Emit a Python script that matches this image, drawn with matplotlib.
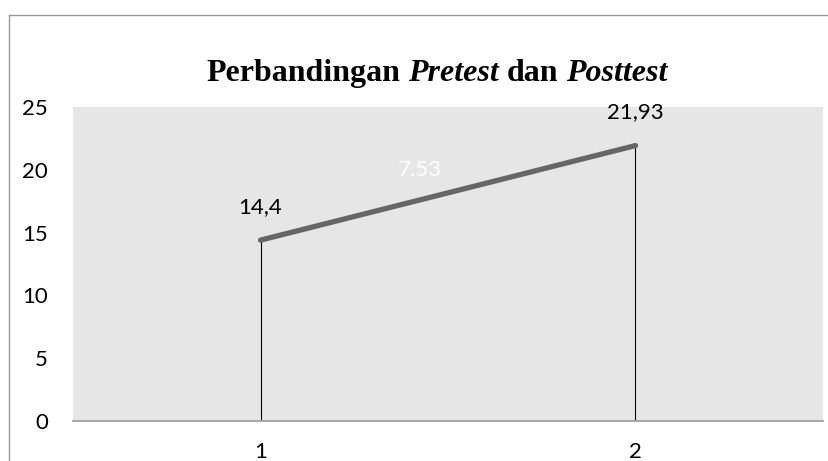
import matplotlib.pyplot as plt
from matplotlib.lines import Line2D

categories = [1, 2]
scores = [14.4, 21.93]
point_labels = ['14,4', '21,93']
gain_label = '7.53'
y_ticks = [0, 5, 10, 15, 20, 25]
title_parts = [('Perbandingan', 'normal'), ('Pretest', 'italic'),
               ('dan', 'normal'), ('Posttest', 'italic')]

W, H = 829, 461
fig = plt.figure(figsize=(W / 100, H / 100), dpi=100)
LAB_FONT = 'Lato'

# plot area in pixels
left, right, top, bottom = 73, 823, 107, 421
ax = fig.add_axes([left / W, 1 - bottom / H, (right - left) / W, (bottom - top) / H])
ax.set_facecolor('#e6e6e6')

ax.plot(categories, scores, color='#666666', lw=3.8, solid_capstyle='round', zorder=3)
ax.vlines(categories, 0, scores, color='black', lw=0.8, zorder=2)

ax.set_xlim(0.5, 2.5)
ax.set_ylim(0, 25)
ax.set_yticks(y_ticks)
ax.set_xticks(categories)

for s in ['top', 'right', 'left']:
    ax.spines[s].set_visible(False)
ax.spines['bottom'].set_color('#a0a0a0')
ax.spines['bottom'].set_linewidth(1.3)
ax.tick_params(length=0, labelsize=16, colors='black')
ax.tick_params(axis='x', pad=15)
ax.tick_params(axis='y', pad=18)
for lab in ax.get_xticklabels() + ax.get_yticklabels():
    lab.set_family(LAB_FONT)

# data labels above the points
for x, y, t in zip(categories, scores, point_labels):
    ax.annotate(t, (x, y), xytext=(0, 24), textcoords='offset points',
                ha='center', va='center', fontsize=16, family=LAB_FONT)

ax.text(1.425, 20.0, gain_label, color='white', fontsize=16,
        ha='center', va='center', family=LAB_FONT)

# title built word by word so that some words can be italic
renderer = fig.canvas.get_renderer()
tsize = 23
pieces = []
for word, style in title_parts:
    t = fig.text(0, 1 - 81 / H, word, fontsize=tsize, fontweight='bold', style=style,
                 family='Liberation Serif', ha='left', va='baseline')
    pieces.append(t)
def width(t):
    return t.get_window_extent(renderer).width
probe1 = fig.text(0, 0, 'x x', fontsize=tsize, fontweight='bold', family='Liberation Serif')
probe2 = fig.text(0, 0, 'xx', fontsize=tsize, fontweight='bold', family='Liberation Serif')
gap = width(probe1) - width(probe2)
probe1.remove()
probe2.remove()
total = sum(width(t) for t in pieces) + gap * (len(pieces) - 1)
x0 = 437 - total / 2
for t in pieces:
    t.set_x(x0 / W)
    x0 += width(t) + gap

# outer chart border
fig.add_artist(Line2D([9 / W, 1], [1 - 15 / H, 1 - 15 / H], color='#9a9a9a', lw=1))
fig.add_artist(Line2D([9 / W, 9 / W], [0, 1 - 15 / H], color='#9a9a9a', lw=1))

fig.savefig('out.png', dpi=100)
